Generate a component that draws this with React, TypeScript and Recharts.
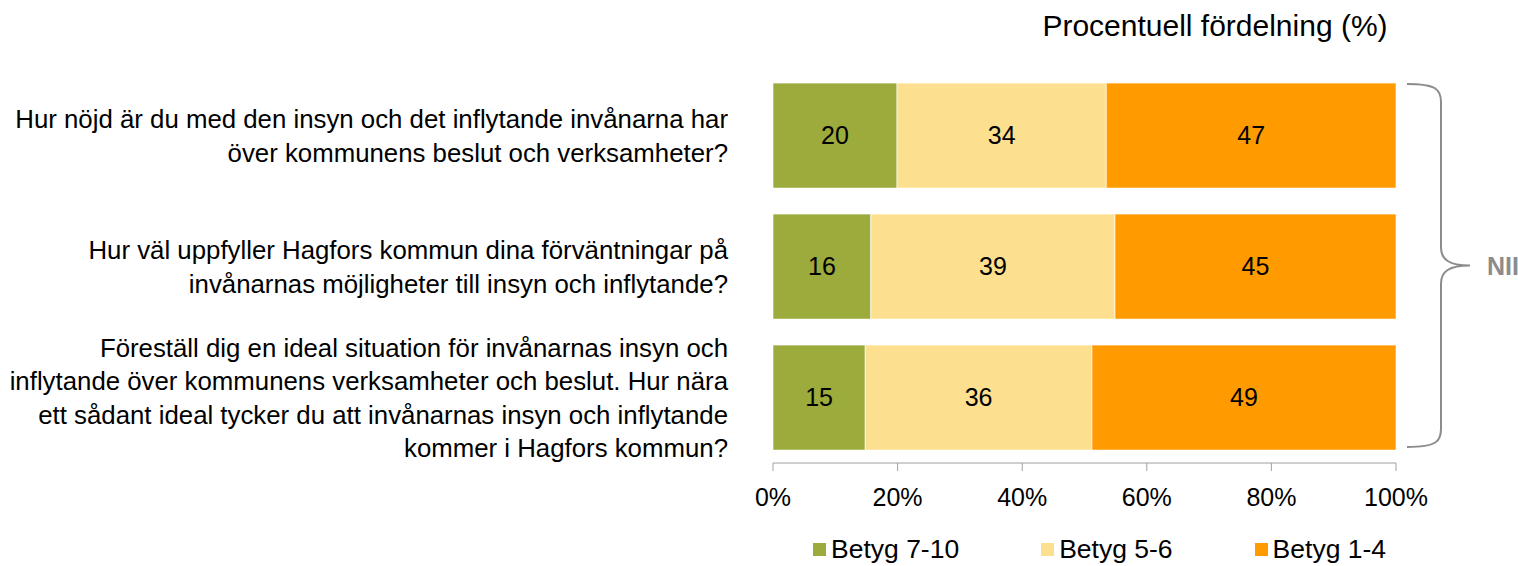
import { BarChart, Bar, XAxis, YAxis, Legend, LabelList } from 'recharts';

// question texts, one array of lines per row
const questionLines: string[][] = [
  ['Hur nöjd är du med den insyn och det inflytande invånarna har', 'över kommunens beslut och verksamheter?'],
  ['Hur väl uppfyller Hagfors kommun dina förväntningar på', 'invånarnas möjligheter till insyn och inflytande?'],
  [
    'Föreställ dig en ideal situation för invånarnas insyn och',
    'inflytande över kommunens verksamheter och beslut. Hur nära',
    'ett sådant ideal tycker du att invånarnas insyn och inflytande',
    'kommer i Hagfors kommun?',
  ],
];
const questions = ['q1', 'q2', 'q3'];
const betyg710 = [19.9, 15.7, 14.8];
const betyg56 = [33.6, 39.2, 36.4];
const betyg14 = [46.5, 45.1, 48.8];
const xTicks = [0, 20, 40, 60, 80, 100];

const data = questions.map((q, i) => ({
  question: q,
  b710: betyg710[i],
  b56: betyg56[i],
  b14: betyg14[i],
}));

const series = [
  { key: 'b710', name: 'Betyg 7-10', color: '#9cab3b' },
  { key: 'b56', name: 'Betyg 5-6', color: '#fde08f' },
  { key: 'b14', name: 'Betyg 1-4', color: '#ff9a00' },
];

const FONT = '"Liberation Sans", Arial, sans-serif';
const W = 1518;
const H = 566;
const M = { top: 70, right: 122, left: 0, bottom: 0 };
const Y_W = 773;
const PLOT_RIGHT = W - M.right;

function QuestionTick(props: any) {
  const { x, y, payload } = props;
  const idx = questions.indexOf(payload.value);
  const lines = questionLines[idx] || [];
  const lh = 33.5;
  const start = y - ((lines.length - 1) * lh) / 2;
  return (
    <text x={x} y={start} textAnchor="end" fill="#000" fontSize={25.8} fontFamily={FONT}>
      {lines.map((l, i) => (
        <tspan key={i} x={x} y={start + i * lh} dy="0.36em">
          {l}
        </tspan>
      ))}
    </text>
  );
}

function LegendContent() {
  return (
    <div style={{ display: 'flex', fontFamily: FONT, fontSize: 26.5, lineHeight: '30px', paddingLeft: 813, paddingTop: 1, whiteSpace: 'nowrap' }}>
      {series.map((s, i) => (
        <div key={s.key} style={{ display: 'flex', alignItems: 'center', marginRight: i < series.length - 1 ? 82 : 0 }}>
          <span style={{ width: 13, height: 13, background: s.color, display: 'inline-block', marginRight: 5 }} />
          <span>{s.name}</span>
        </div>
      ))}
    </div>
  );
}

export default function App() {
  const plotTop = M.top;
  const plotBottom = 463;
  const braceL = PLOT_RIGHT + 11;
  const braceX = PLOT_RIGHT + 45;
  const braceTip = PLOT_RIGHT + 74;
  const bTop = plotTop + 14;
  const bBot = plotBottom - 16;
  const bMid = (bTop + bBot) / 2;
  const brace = [
    `M${braceL},${bTop}`,
    `C${braceX - 4},${bTop} ${braceX},${bTop + 6} ${braceX},${bTop + 18}`,
    `L${braceX},${bMid - 18}`,
    `C${braceX},${bMid - 6} ${braceX + 8},${bMid} ${braceTip},${bMid}`,
    `C${braceX + 8},${bMid} ${braceX},${bMid + 6} ${braceX},${bMid + 18}`,
    `L${braceX},${bBot - 18}`,
    `C${braceX},${bBot - 6} ${braceX - 4},${bBot} ${braceL},${bBot}`,
  ].join(' ');

  return (
    <div style={{ position: 'absolute', left: 0, top: 0, width: W, height: H, overflow: 'hidden', background: '#fff' }}>
      <BarChart width={W} height={H} data={data} layout="vertical" margin={M} barCategoryGap="10%">
        <XAxis
          type="number"
          domain={[0, 100]}
          ticks={xTicks}
          tickFormatter={(v: number) => `${v}%`}
          stroke="#a0a0a0"
          tickSize={8}
          tickMargin={17}
          height={70}
          tick={{ fill: '#000', fontSize: 25, fontFamily: FONT }}
          interval={0}
        />
        <YAxis
          type="category"
          dataKey="question"
          width={Y_W}
          axisLine={false}
          tickLine={false}
          tickMargin={39}
          tick={<QuestionTick />}
          interval={0}
        />
        {series.map((s) => (
          <Bar key={s.key} dataKey={s.key} name={s.name} stackId="a" fill={s.color} stroke="#fff" strokeWidth={0.6} isAnimationActive={false}>
            <LabelList
              dataKey={s.key}
              position="center"
              formatter={(v: any) => Math.round(Number(v))}
              fill="#000"
              fontSize={25}
              fontFamily={FONT}
            />
          </Bar>
        ))}
        <Legend verticalAlign="bottom" height={33} content={<LegendContent />} />
        <text x={1215} y={36} textAnchor="middle" fontSize={30} fontFamily={FONT} fill="#000">
          Procentuell fördelning (%)
        </text>
        <path d={brace} fill="none" stroke="#8c8c8c" strokeWidth={2} />
        <text x={braceTip + 17} y={bMid + 9} fontSize={25} fontWeight="bold" fontFamily={FONT} fill="#8c8c8c">
          NII
        </text>
      </BarChart>
    </div>
  );
}
